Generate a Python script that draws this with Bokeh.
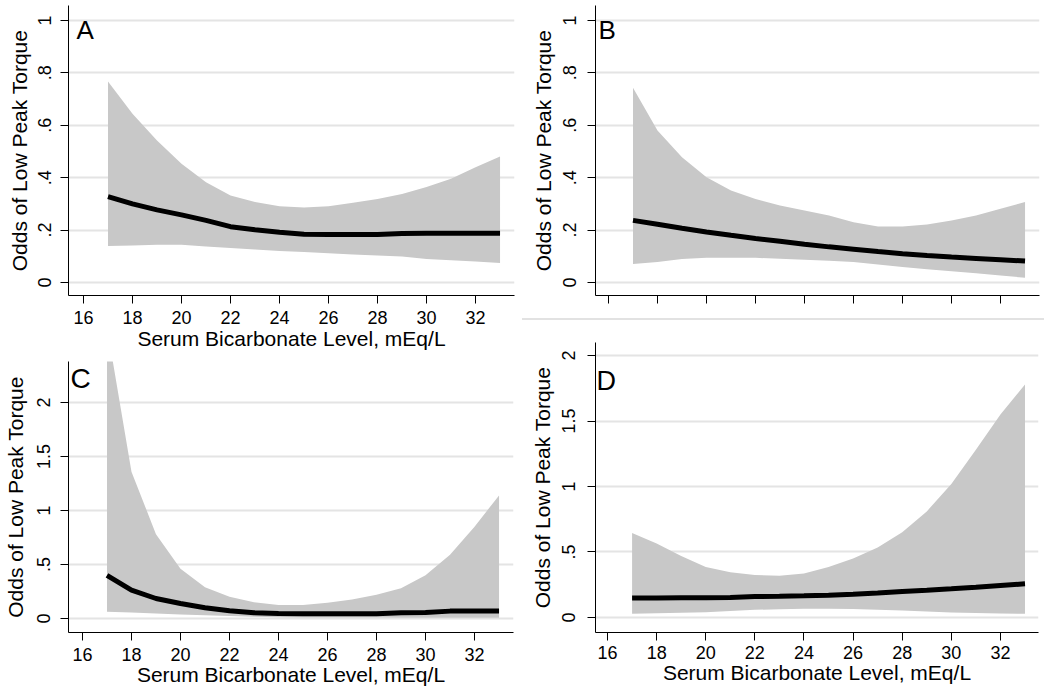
from bokeh.plotting import figure
from bokeh.layouts import row, column
from bokeh.models import Range1d, FixedTicker, Label, Div
from bokeh.embed import file_html
from bokeh.resources import INLINE

# ---------------- data ----------------
x_vals = [17, 18, 19, 20, 21, 22, 23, 24, 25, 26, 27, 28, 29, 30, 31, 32, 33]

a_fit   = [0.328, 0.300, 0.277, 0.258, 0.237, 0.213, 0.201, 0.192, 0.184, 0.183, 0.183, 0.183, 0.187, 0.188, 0.188, 0.188, 0.188]
a_upper = [0.767, 0.644, 0.542, 0.453, 0.383, 0.332, 0.307, 0.291, 0.286, 0.291, 0.304, 0.319, 0.338, 0.364, 0.396, 0.440, 0.481]
a_lower = [0.139, 0.141, 0.144, 0.144, 0.137, 0.132, 0.126, 0.120, 0.116, 0.112, 0.107, 0.103, 0.099, 0.090, 0.085, 0.080, 0.074]

b_fit   = [0.237, 0.222, 0.207, 0.193, 0.180, 0.168, 0.157, 0.146, 0.136, 0.127, 0.118, 0.110, 0.103, 0.097, 0.092, 0.087, 0.082]
b_upper = [0.743, 0.580, 0.478, 0.402, 0.351, 0.319, 0.294, 0.275, 0.256, 0.230, 0.214, 0.214, 0.221, 0.237, 0.256, 0.281, 0.307]
b_lower = [0.071, 0.078, 0.090, 0.094, 0.094, 0.094, 0.091, 0.087, 0.083, 0.078, 0.069, 0.059, 0.051, 0.043, 0.035, 0.027, 0.018]

c_fit   = [0.400, 0.263, 0.185, 0.139, 0.100, 0.071, 0.053, 0.046, 0.043, 0.043, 0.043, 0.043, 0.053, 0.056, 0.068, 0.068, 0.068]
c_upper = [2.700, 1.360, 0.780, 0.460, 0.290, 0.200, 0.150, 0.125, 0.124, 0.145, 0.175, 0.220, 0.280, 0.400, 0.590, 0.850, 1.140]
c_lower = [0.062, 0.056, 0.045, 0.037, 0.029, 0.022, 0.016, 0.012, 0.010, 0.009, 0.008, 0.008, 0.007, 0.007, 0.006, 0.006, 0.006]

d_fit   = [0.148, 0.149, 0.150, 0.151, 0.153, 0.160, 0.162, 0.165, 0.170, 0.178, 0.187, 0.198, 0.208, 0.219, 0.231, 0.244, 0.257]
d_upper = [0.645, 0.565, 0.470, 0.385, 0.345, 0.325, 0.318, 0.335, 0.385, 0.450, 0.535, 0.650, 0.810, 1.020, 1.280, 1.550, 1.780]
d_lower = [0.028, 0.032, 0.036, 0.040, 0.050, 0.058, 0.063, 0.066, 0.066, 0.064, 0.059, 0.053, 0.046, 0.038, 0.033, 0.030, 0.028]

x_ticks = [16, 18, 20, 22, 24, 26, 28, 30, 32]
y_ticks_ab = [0, 0.2, 0.4, 0.6, 0.8, 1]
y_labels_ab = ["0", ".2", ".4", ".6", ".8", "1"]
y_ticks_cd = [0, 0.5, 1, 1.5, 2]
y_labels_cd = ["0", ".5", "1", "1.5", "2"]

x_title = "Serum Bicarbonate Level, mEq/L"
y_title = "Odds of Low Peak Torque"
panel_letters = ["A", "B", "C", "D"]

FONT = "Liberation Sans"
BAND = "#c8c8c8"
GRID = "#e4e4e4"


def make_panel(fit, upper, lower, xr, yr, yt, yl, letter, lpos, lsize,
               borders, fw, fh, ystand, ytstand, show_x, xstand, xtstand):
    bl, br, bt, bb = borders
    p = figure(frame_width=fw, frame_height=fh,
               min_border_left=bl, min_border_right=br,
               min_border_top=bt, min_border_bottom=bb,
               x_range=Range1d(*xr), y_range=Range1d(*yr),
               toolbar_location=None, output_backend="svg")
    p.outline_line_color = None
    p.background_fill_color = "white"
    p.border_fill_color = "white"
    p.xgrid.grid_line_color = None
    p.ygrid.grid_line_color = GRID
    p.ygrid.grid_line_width = 2

    p.varea(x=x_vals, y1=lower, y2=upper, fill_color=BAND, fill_alpha=1.0)
    p.line(x=x_vals, y=fit, line_color="black", line_width=5)

    for ax in (p.xaxis[0], p.yaxis[0]):
        ax.axis_line_color = "black"
        ax.axis_line_width = 1
        ax.major_tick_line_color = "black"
        ax.major_tick_line_width = 1
        ax.major_tick_in = 0
        ax.major_tick_out = 8
        ax.minor_tick_line_color = None
        ax.major_label_text_font = FONT
        ax.major_label_text_font_size = "18px"
        ax.major_label_text_color = "black"
        ax.axis_label_text_font = FONT
        ax.axis_label_text_font_size = "21px"
        ax.axis_label_text_font_style = "normal"
        ax.axis_label_text_color = "black"

    p.xaxis.ticker = FixedTicker(ticks=x_ticks)
    p.yaxis.ticker = FixedTicker(ticks=yt)
    p.yaxis.major_label_overrides = {t: s for t, s in zip(yt, yl)}
    p.yaxis.major_label_orientation = "vertical"
    p.yaxis.major_label_standoff = ystand
    p.yaxis.axis_label = y_title
    p.yaxis.axis_label_standoff = ytstand
    if show_x:
        p.xaxis.axis_label = x_title
        p.xaxis.major_label_standoff = xstand
        p.xaxis.axis_label_standoff = xtstand
    else:
        p.xaxis.major_label_text_color = None
        p.xaxis.major_label_text_font_size = "8px"
        p.xaxis.major_label_standoff = 0

    p.add_layout(Label(x=lpos[0], y=lpos[1], text=letter,
                       text_font=FONT, text_font_size=lsize,
                       text_color="black", text_baseline="middle",
                       text_align="left"))
    return p


# left column: A (height 357) over C (height 337)
pa = make_panel(a_fit, a_upper, a_lower, (15.388, 33.59), (-0.0496, 1.057),
                y_ticks_ab, y_labels_ab, panel_letters[0], (15.715, 0.962), "26px",
                (64, 12, 5, 62), 446, 290, 9, 5, True, 7, 0)
pc = make_panel(c_fit, c_upper, c_lower, (15.43, 33.59), (-0.13, 2.38),
                y_ticks_cd, y_labels_cd, panel_letters[2], (15.51, 2.222), "28px",
                (68, 9, 4, 62), 445, 271, 10, 8, True, 7, -1)
# right column: B (height 318), divider (2), D (height 374)
pb = make_panel(b_fit, b_upper, b_lower, (15.47, 33.59), (-0.0496, 1.057),
                y_ticks_ab, y_labels_ab, panel_letters[1], (15.59, 0.962), "26px",
                (72, 6, 5, 23), 444, 290, 11, 6, False, 0, 0)
pd = make_panel(d_fit, d_upper, d_lower, (15.51, 33.55), (-0.115, 2.10),
                y_ticks_cd, y_labels_cd, panel_letters[3], (15.55, 1.809), "27px",
                (73, 6, 22, 62), 443, 290, 12, 6, True, 5, -1)

divider = Div(text="", width=522, height=2, margin=0,
              styles={"background-color": "#e2e2e2"})

layout = row(column(pa, pc), column(pb, divider, pd))

with open("out.html", "w") as f:
    f.write(file_html(layout, INLINE))
